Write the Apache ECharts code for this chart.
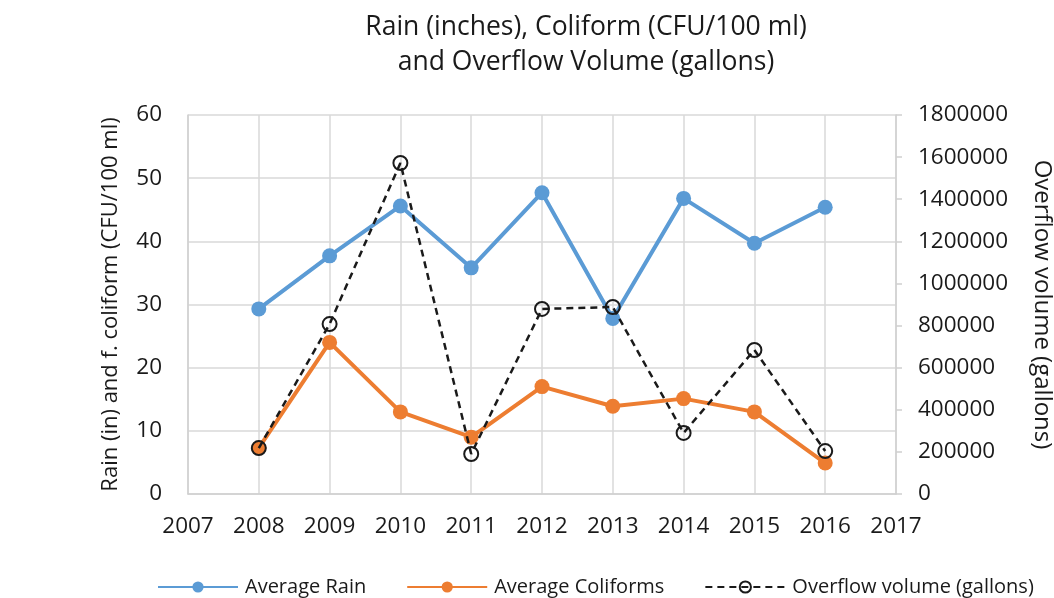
<!DOCTYPE html>
<html><head><meta charset="utf-8">
<script src="https://cdn.jsdelivr.net/npm/echarts@6/dist/echarts.min.js"></script>
<style>html,body{margin:0;padding:0;background:#fff}#c{width:1054px;height:598px}</style>
</head><body><div id="c"></div>
<script>
const years = [2008, 2009, 2010, 2011, 2012, 2013, 2014, 2015, 2016];
const avgRain = [29.3, 37.7, 45.6, 35.8, 47.7, 27.8, 46.8, 39.7, 45.4];
const avgColiforms = [7.3, 24.0, 13.0, 9.0, 17.0, 13.9, 15.1, 13.0, 4.9];
const overflow = [218000, 807000, 1572000, 190000, 879000, 888000, 290000, 684000, 204000];
const titleLines = ['Rain (inches), Coliform (CFU/100 ml)', 'and Overflow Volume (gallons)'];

const FONT = 'Open Sans';
const pair = (arr) => years.map((y, i) => [y, arr[i]]);
const chart = echarts.init(document.getElementById('c'));
chart.setOption({
  animation: false,
  textStyle: { fontFamily: FONT },
  title: {
    text: titleLines.join('\n'),
    left: 581, top: 5, textAlign: 'center',
    textStyle: { fontFamily: FONT, fontSize: 26.5, fontWeight: 'normal', color: '#1a1a1a', lineHeight: 35 }
  },
  grid: { left: 188, right: 158, top: 115, bottom: 104, outerBoundsMode: 'none' },
  legend: {
    left: 152, top: 572, width: 900, itemWidth: 80, itemHeight: 14, itemGap: 40,
    textStyle: { fontFamily: FONT, fontSize: 20, color: '#1a1a1a', padding: [0, 0, 0, 2] },
    data: ['Average Rain', 'Average Coliforms', 'Overflow volume (gallons)']
  },
  xAxis: {
    type: 'value', min: 2007, max: 2017, interval: 1,
    axisLine: { show: true, lineStyle: { color: '#d0d0d0', width: 1.5 } },
    axisTick: { show: false },
    splitLine: { show: true, lineStyle: { color: '#d9d9d9', width: 1.5 } },
    axisLabel: { formatter: v => String(v), fontSize: 22.5, color: '#1a1a1a', margin: 21 }
  },
  yAxis: [{
    type: 'value', min: 0, max: 60, interval: 10, position: 'left',
    name: 'Rain (in) and f. coliform (CFU/100 ml)', nameLocation: 'middle', nameGap: 66,
    nameTextStyle: { fontSize: 22, color: '#1a1a1a' },
    axisLine: { show: true, lineStyle: { color: '#d0d0d0', width: 1.5 } },
    axisTick: { show: false },
    splitLine: { show: true, lineStyle: { color: '#d9d9d9', width: 1.5 } },
    axisLabel: { fontSize: 22.5, color: '#1a1a1a', margin: 26 }
  }, {
    type: 'value', min: 0, max: 1800000, interval: 200000, position: 'right',
    name: 'Overflow volume (gallons)', nameLocation: 'middle', nameGap: 134, nameRotate: -90,
    nameTextStyle: { fontSize: 24, color: '#1a1a1a' },
    axisLine: { show: true, lineStyle: { color: '#d0d0d0', width: 1.5 } },
    axisTick: { show: true, length: 6, lineStyle: { color: '#d0d0d0', width: 1.5 } },
    splitLine: { show: false },
    axisLabel: { formatter: v => String(v), fontSize: 22.5, color: '#1a1a1a', margin: 22 }
  }],
  series: [{
    name: 'Average Rain', type: 'line', yAxisIndex: 0, data: pair(avgRain),
    symbol: 'circle', symbolSize: 15,
    lineStyle: { color: '#5b9bd5', width: 4 }, itemStyle: { color: '#5b9bd5' }
  }, {
    name: 'Average Coliforms', type: 'line', yAxisIndex: 0, data: pair(avgColiforms),
    symbol: 'circle', symbolSize: 15,
    lineStyle: { color: '#ed7d31', width: 4 }, itemStyle: { color: '#ed7d31' }
  }, {
    name: 'Overflow volume (gallons)', type: 'line', yAxisIndex: 1, data: pair(overflow),
    symbol: 'circle', symbolSize: 14, z: 5,
    lineStyle: { color: '#1a1a1a', width: 2.5, type: [7, 5] },
    itemStyle: { color: 'rgba(0,0,0,0)', borderColor: '#1a1a1a', borderWidth: 2 }
  }]
});
</script></body></html>
